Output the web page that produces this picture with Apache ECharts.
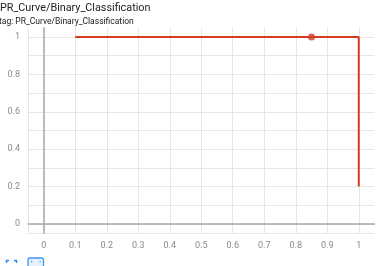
<!DOCTYPE html>
<html>
<head>
<meta charset="utf-8">
<script src="https://cdn.jsdelivr.net/npm/echarts@6/dist/echarts.min.js"></script>
<style>html,body{margin:0;padding:0;background:#fff;}#c{width:378px;height:266px;}</style>
</head>
<body>
<div id="c"></div>
<script>
const titleText = 'PR_Curve/Binary_Classification';
const tagText = 'tag: PR_Curve/Binary_Classification';
const recall = [0.1, 1, 1];
const precision = [1, 1, 0.2];
const markerPoint = [0.85, 1];
const xTicks = [0, 0.1, 0.2, 0.3, 0.4, 0.5, 0.6, 0.7, 0.8, 0.9, 1];
const xTickLabels = ['0', '0.1', '0.2', '0.3', '0.4', '0.5', '0.6', '0.7', '0.8', '0.9', '1'];
const yGridValues = [-0.05, 0, 0.1, 0.2, 0.3, 0.4, 0.5, 0.6, 0.7, 0.8, 0.9, 1];
const yLabelValues = [0, 0.2, 0.4, 0.6, 0.8, 1];
const yTickLabels = ['0', '0.2', '0.4', '0.6', '0.8', '1'];
const xGridValues = [-0.05].concat(xTicks);

const red = '#d53c22';
const labelStyle = { color: '#8a8a8a', fontSize: 9, fontFamily: 'Roboto' };
function fmt(values, labels) {
  return function (v) {
    for (let i = 0; i < values.length; i++) if (Math.abs(values[i] - v) < 1e-9) return labels[i];
    return '';
  };
}

const chart = echarts.init(document.getElementById('c'), null, { renderer: 'canvas' });
chart.setOption({
  animation: false,
  title: [
    { text: titleText, left: 0, top: 3, padding: 0, textStyle: { fontSize: 10.8, fontWeight: 'normal', color: '#212121', fontFamily: 'Roboto' } },
    { text: tagText, left: -1, top: 17.5, padding: 0, textStyle: { fontSize: 8.5, fontWeight: 'normal', color: '#212121', fontFamily: 'Roboto' } }
  ],
  grid: { left: 28, right: 3.5, top: 27.65, bottom: 32.65, containLabel: false },
  xAxis: {
    type: 'value', min: -0.05, max: 1.05,
    axisLine: { show: true, onZero: true, lineStyle: { color: '#a8a8a8', width: 1.5 } },
    axisTick: { show: false, customValues: xGridValues },
    axisLabel: Object.assign({ customValues: xTicks, margin: 8, formatter: fmt(xTicks, xTickLabels) }, labelStyle),
    splitLine: { show: true, lineStyle: { color: '#e6e6e6', width: 1 } }
  },
  yAxis: {
    type: 'value', min: -0.05, max: 1.05,
    axisLine: { show: true, onZero: true, lineStyle: { color: '#a8a8a8', width: 1.5 } },
    axisTick: { show: false, customValues: yGridValues },
    axisLabel: Object.assign({ customValues: yLabelValues, margin: 8, formatter: fmt(yLabelValues, yTickLabels) }, labelStyle),
    splitLine: { show: true, lineStyle: { color: '#e6e6e6', width: 1 } }
  },
  series: [
    {
      type: 'line',
      data: recall.map((r, i) => [r, precision[i]]),
      symbol: 'none',
      lineStyle: { color: red, width: 2 },
      z: 3
    },
    {
      type: 'scatter',
      data: [markerPoint],
      symbol: 'circle',
      symbolSize: 7,
      itemStyle: { color: red },
      z: 4
    }
  ],
  graphic: [
    { type: 'polyline', shape: { points: [[6.5, 263], [6.5, 260.5], [9, 260.5]] }, style: { stroke: '#2a8cf0', lineWidth: 1.5, fill: null } },
    { type: 'polyline', shape: { points: [[14, 260.5], [16.5, 260.5], [16.5, 263]] }, style: { stroke: '#2a8cf0', lineWidth: 1.5, fill: null } },
    { type: 'rect', shape: { x: 28, y: 258, width: 15.5, height: 12, r: 2 }, style: { stroke: '#3d97f2', lineWidth: 1.3, fill: '#e6f1fd' } },
    { type: 'rect', shape: { x: 31, y: 261, width: 1.2, height: 1.2 }, style: { fill: '#3d97f2' } },
    { type: 'rect', shape: { x: 39.5, y: 261, width: 1.2, height: 1.2 }, style: { fill: '#3d97f2' } }
  ]
});
</script>
</body>
</html>
